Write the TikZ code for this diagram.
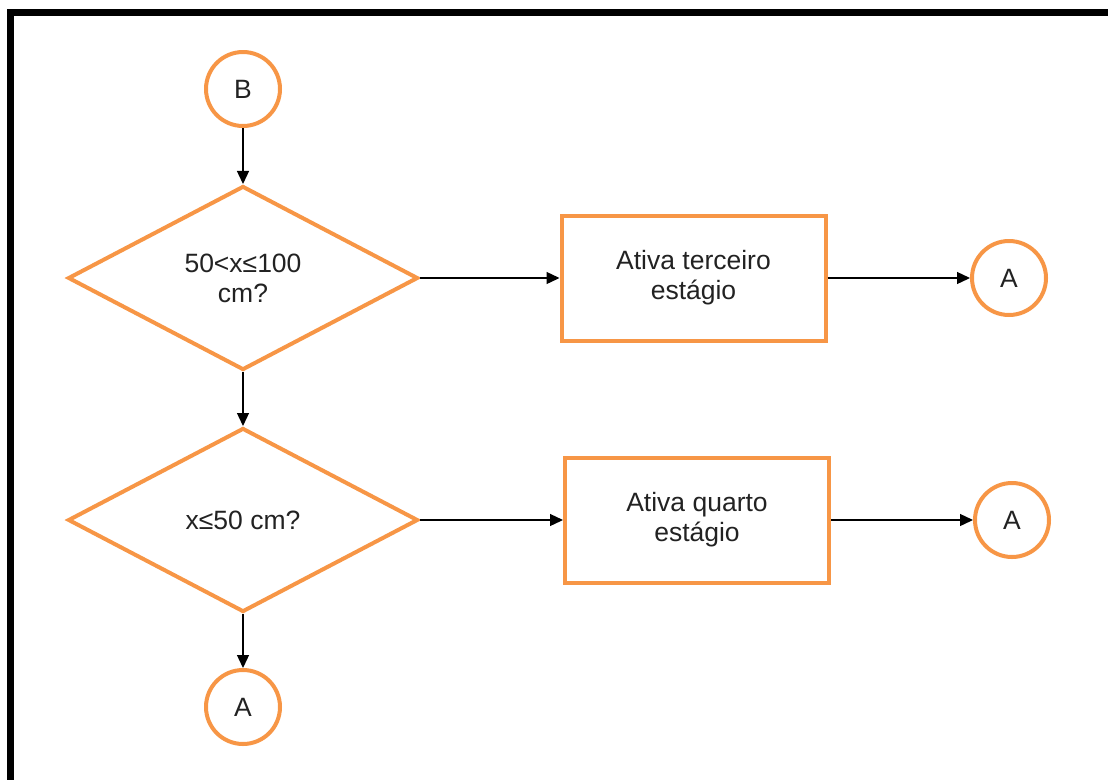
\documentclass[tikz,border=0pt]{standalone}
\usepackage{fontspec}
\setmainfont{Liberation Sans}
\usetikzlibrary{shapes.geometric,arrows.meta}
\definecolor{flowor}{RGB}{247,150,70}
\definecolor{txt}{RGB}{34,34,34}
\begin{document}
\begin{tikzpicture}[x=1pt,y=-1pt,
  every node/.style={text=txt,font=\fontsize{26.5}{30}\selectfont,align=center},
  conn/.style={draw=flowor,line width=4pt,circle,minimum size=74pt,inner sep=0pt},
  decide/.style={draw=flowor,line width=4pt,diamond,minimum width=350pt,minimum height=184pt,inner sep=0pt},
  procbox/.style={draw=flowor,line width=4pt,rectangle,minimum width=264pt,minimum height=125pt,inner sep=0pt},
  flow/.style={draw=black,line width=1.3pt,-{Triangle[length=13pt,width=12pt]}}]
  \useasboundingbox (0,0) rectangle (1108,780);
  % frame
  \fill[black] (7,9) rectangle (1108,16);
  \fill[black] (7,9) rectangle (14,780);

  % nodes
  \node[conn] (B) at (243,89) {\raisebox{-2pt}{B}};
  \node[decide] (d1) at (243,278) {50<x≤100\\cm?};
  \node[decide] (d2) at (243,520) {x≤50 cm?};
  \node[conn] (Ab) at (243,707) {\raisebox{-2pt}{A}};
  \node[procbox] (p1) at (693.5,278) {Ativa terceiro\\estágio};
  \node[procbox] (p2) at (697,520) {Ativa quarto\\estágio};
  \node[conn] (A1) at (1009,278) {\raisebox{-2pt}{A}};
  \node[conn] (A2) at (1012,520) {\raisebox{-2pt}{A}};

  % connectors
  \draw[flow] (B) -- (d1);
  \draw[flow] (d1) -- (d2);
  \draw[flow] (d2) -- (Ab);
  \draw[flow] (d1) -- (p1);
  \draw[flow] (p1) -- (A1);
  \draw[flow] (d2) -- (p2);
  \draw[flow] (p2) -- (A2);
\end{tikzpicture}
\end{document}
